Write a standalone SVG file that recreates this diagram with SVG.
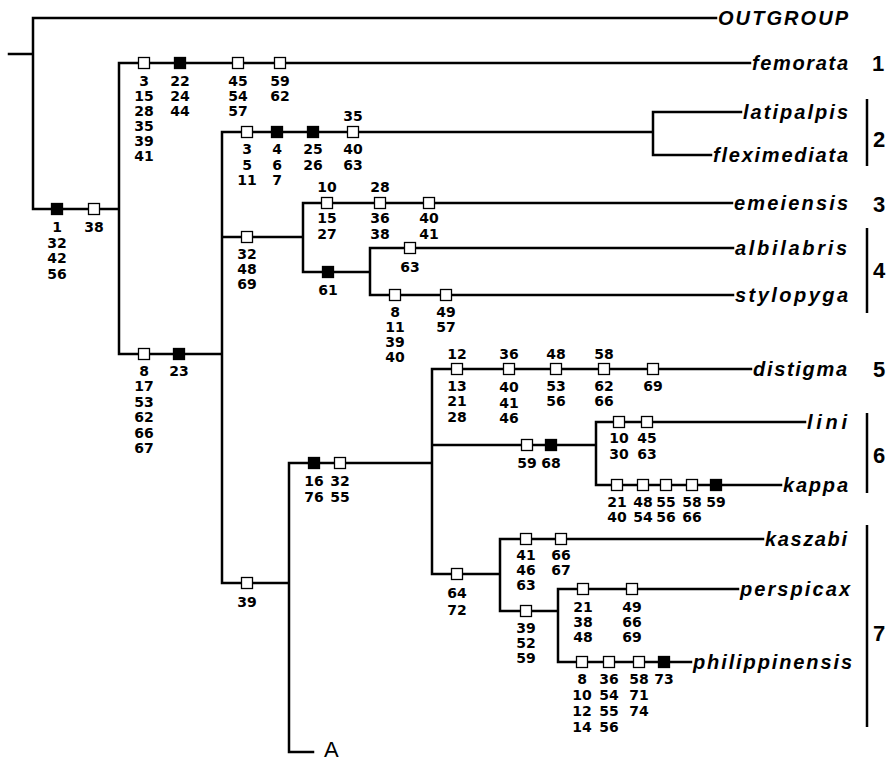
<svg xmlns="http://www.w3.org/2000/svg" width="891" height="762" viewBox="0 0 891 762">
<style>
.br{fill:none;stroke:#000;stroke-width:2.5;stroke-linecap:square}
.bk{fill:none;stroke:#000;stroke-width:2.5}
.o{fill:#fff;stroke:#000;stroke-width:1.3}
.f{fill:#000;stroke:#000;stroke-width:1.3}
.c{font-family:"DejaVu Sans",Verdana,sans-serif;font-weight:bold;font-size:14px;text-anchor:middle;fill:#000}
.t{font-family:"Liberation Sans",Arial,sans-serif;font-weight:bold;font-style:italic;font-size:20px;fill:#000}
.n{font-family:"Liberation Sans",Arial,sans-serif;font-weight:bold;font-size:22px;text-anchor:middle;fill:#000}
.a{font-family:"Liberation Sans",Arial,sans-serif;font-size:22px;fill:#000}
</style>
<rect width="891" height="762" fill="#fff"/>
<g id="connectors">
<path class="br" d="M9,54H33M33,18V209M33,18H716M33,209H119M119,63V354M119,63H750M119,354H222M222,132V583M222,132H653M653,112V155M653,112H741M653,155H711M222,237H303M303,203V272M303,203H732M303,272H370M370,248V295M370,248H733M370,295H733M222,583H289M289,463V752H313M289,463H432M432,369V574M432,369H751M432,445H596M596,422V485M596,422H805M596,485H781M432,574H500M500,539V611M500,539H763M500,611H558M558,589V662M558,589H738M558,662H691"/>
</g>
<g id="taxa">
<g id="t-outgroup"><text class="t" x="718" y="25" textLength="130" lengthAdjust="spacing">OUTGROUP</text></g>
<g id="t-femorata"><text class="t" x="752" y="70" textLength="96" lengthAdjust="spacing">femorata</text></g>
<g id="t-latipalpis"><text class="t" x="743" y="119" textLength="105" lengthAdjust="spacing">latipalpis</text></g>
<g id="t-fleximediata"><text class="t" x="713" y="162" textLength="135" lengthAdjust="spacing">fleximediata</text></g>
<g id="t-emeiensis"><text class="t" x="734" y="210" textLength="114" lengthAdjust="spacing">emeiensis</text></g>
<g id="t-albilabris"><text class="t" x="735" y="255" textLength="112" lengthAdjust="spacing">albilabris</text></g>
<g id="t-stylopyga"><text class="t" x="735" y="302" textLength="113" lengthAdjust="spacing">stylopyga</text></g>
<g id="t-distigma"><text class="t" x="753" y="376" textLength="94" lengthAdjust="spacing">distigma</text></g>
<g id="t-lini"><text class="t" x="807" y="429" textLength="40" lengthAdjust="spacing">lini</text></g>
<g id="t-kappa"><text class="t" x="783" y="492" textLength="65" lengthAdjust="spacing">kappa</text></g>
<g id="t-kaszabi"><text class="t" x="765" y="546" textLength="82" lengthAdjust="spacing">kaszabi</text></g>
<g id="t-perspicax"><text class="t" x="740" y="596" textLength="110" lengthAdjust="spacing">perspicax</text></g>
<g id="t-philippinensis"><text class="t" x="693" y="669" textLength="159" lengthAdjust="spacing">philippinensis</text></g>
<g id="t-A"><text class="a" x="324" y="757">A</text></g>
</g>
<g id="groups">
<g id="g1"><text class="n" x="878" y="71">1</text></g>
<g id="g2"><path class="bk" d="M867,99V166"/><text class="n" x="879" y="147">2</text></g>
<g id="g3"><text class="n" x="879" y="212">3</text></g>
<g id="g4"><path class="bk" d="M867,228V313"/><text class="n" x="879" y="278">4</text></g>
<g id="g5"><text class="n" x="879" y="377">5</text></g>
<g id="g6"><path class="bk" d="M867,413V493"/><text class="n" x="879" y="463">6</text></g>
<g id="g7"><path class="bk" d="M867,525V727"/><text class="n" x="879" y="641">7</text></g>
</g>
<g id="characters">
<g id="m1"><rect class="f" x="51.5" y="203.5" width="11" height="11"/><text class="c" x="57"><tspan x="57" y="232">1</tspan><tspan x="57" y="247.5">32</tspan><tspan x="57" y="263">42</tspan><tspan x="57" y="278.5">56</tspan></text></g>
<g id="m2"><rect class="o" x="88.5" y="203.5" width="11" height="11"/><text class="c"><tspan x="94" y="232">38</tspan></text></g>
<g id="m3"><rect class="o" x="138.5" y="57.5" width="11" height="11"/><text class="c"><tspan x="144" y="86">3</tspan><tspan x="144" y="101">15</tspan><tspan x="144" y="116">28</tspan><tspan x="144" y="131">35</tspan><tspan x="144" y="146">39</tspan><tspan x="144" y="161">41</tspan></text></g>
<g id="m4"><rect class="f" x="174.5" y="57.5" width="11" height="11"/><text class="c"><tspan x="180" y="86">22</tspan><tspan x="180" y="101">24</tspan><tspan x="180" y="116">44</tspan></text></g>
<g id="m5"><rect class="o" x="232.5" y="57.5" width="11" height="11"/><text class="c"><tspan x="238" y="86">45</tspan><tspan x="238" y="101">54</tspan><tspan x="238" y="116">57</tspan></text></g>
<g id="m6"><rect class="o" x="274.5" y="57.5" width="11" height="11"/><text class="c"><tspan x="280" y="86">59</tspan><tspan x="280" y="101">62</tspan></text></g>
<g id="m7"><rect class="o" x="138.5" y="348.5" width="11" height="11"/><text class="c"><tspan x="144" y="376">8</tspan><tspan x="144" y="391">17</tspan><tspan x="144" y="406.5">53</tspan><tspan x="144" y="422">62</tspan><tspan x="144" y="437.5">66</tspan><tspan x="144" y="453">67</tspan></text></g>
<g id="m8"><rect class="f" x="173.5" y="348.5" width="11" height="11"/><text class="c"><tspan x="179" y="376">23</tspan></text></g>
<g id="m9"><rect class="o" x="241.5" y="126.5" width="11" height="11"/><text class="c"><tspan x="247" y="154">3</tspan><tspan x="247" y="169.5">5</tspan><tspan x="247" y="185">11</tspan></text></g>
<g id="m10"><rect class="f" x="271.5" y="126.5" width="11" height="11"/><text class="c"><tspan x="277" y="154">4</tspan><tspan x="277" y="169.5">6</tspan><tspan x="277" y="185">7</tspan></text></g>
<g id="m11"><rect class="f" x="307.5" y="126.5" width="11" height="11"/><text class="c"><tspan x="313" y="154">25</tspan><tspan x="313" y="169.5">26</tspan></text></g>
<g id="m12"><rect class="o" x="347.5" y="126.5" width="11" height="11"/><text class="c"><tspan x="353" y="121">35</tspan><tspan x="353" y="154">40</tspan><tspan x="353" y="169.5">63</tspan></text></g>
<g id="m13"><rect class="o" x="241.5" y="231.5" width="11" height="11"/><text class="c"><tspan x="247" y="259">32</tspan><tspan x="247" y="274">48</tspan><tspan x="247" y="289">69</tspan></text></g>
<g id="m14"><rect class="o" x="321.5" y="197.5" width="11" height="11"/><text class="c"><tspan x="327" y="192">10</tspan><tspan x="327" y="223">15</tspan><tspan x="327" y="238.5">27</tspan></text></g>
<g id="m15"><rect class="o" x="374.5" y="197.5" width="11" height="11"/><text class="c"><tspan x="380" y="192">28</tspan><tspan x="380" y="223">36</tspan><tspan x="380" y="238.5">38</tspan></text></g>
<g id="m16"><rect class="o" x="423.5" y="197.5" width="11" height="11"/><text class="c"><tspan x="429" y="223">40</tspan><tspan x="429" y="238.5">41</tspan></text></g>
<g id="m17"><rect class="f" x="322.5" y="266.5" width="11" height="11"/><text class="c"><tspan x="328" y="295">61</tspan></text></g>
<g id="m18"><rect class="o" x="404.5" y="242.5" width="11" height="11"/><text class="c"><tspan x="410" y="271.5">63</tspan></text></g>
<g id="m19"><rect class="o" x="389.5" y="289.5" width="11" height="11"/><text class="c"><tspan x="395" y="317">8</tspan><tspan x="395" y="332">11</tspan><tspan x="395" y="347">39</tspan><tspan x="395" y="362">40</tspan></text></g>
<g id="m20"><rect class="o" x="440.5" y="289.5" width="11" height="11"/><text class="c"><tspan x="446" y="317">49</tspan><tspan x="446" y="332">57</tspan></text></g>
<g id="m21"><rect class="o" x="241.5" y="577.5" width="11" height="11"/><text class="c"><tspan x="247" y="606.5">39</tspan></text></g>
<g id="m22"><rect class="f" x="308.5" y="457.5" width="11" height="11"/><text class="c"><tspan x="314" y="486">16</tspan><tspan x="314" y="502">76</tspan></text></g>
<g id="m23"><rect class="o" x="334.5" y="457.5" width="11" height="11"/><text class="c"><tspan x="340" y="486">32</tspan><tspan x="340" y="502">55</tspan></text></g>
<g id="m24"><rect class="o" x="451.5" y="363.5" width="11" height="11"/><text class="c"><tspan x="457" y="359">12</tspan><tspan x="457" y="391">13</tspan><tspan x="457" y="406">21</tspan><tspan x="457" y="422">28</tspan></text></g>
<g id="m25"><rect class="o" x="503.5" y="363.5" width="11" height="11"/><text class="c"><tspan x="509" y="359">36</tspan><tspan x="509" y="392">40</tspan><tspan x="509" y="407.5">41</tspan><tspan x="509" y="423">46</tspan></text></g>
<g id="m26"><rect class="o" x="550.5" y="363.5" width="11" height="11"/><text class="c"><tspan x="556" y="359">48</tspan><tspan x="556" y="391">53</tspan><tspan x="556" y="406">56</tspan></text></g>
<g id="m27"><rect class="o" x="598.5" y="363.5" width="11" height="11"/><text class="c"><tspan x="604" y="359">58</tspan><tspan x="604" y="391">62</tspan><tspan x="604" y="406">66</tspan></text></g>
<g id="m28"><rect class="o" x="647.5" y="363.5" width="11" height="11"/><text class="c"><tspan x="653" y="391">69</tspan></text></g>
<g id="m29"><rect class="o" x="521.5" y="439.5" width="11" height="11"/><text class="c"><tspan x="527" y="467.5">59</tspan></text></g>
<g id="m30"><rect class="f" x="545.5" y="439.5" width="11" height="11"/><text class="c"><tspan x="551" y="467.5">68</tspan></text></g>
<g id="m31"><rect class="o" x="613.5" y="416.5" width="11" height="11"/><text class="c"><tspan x="619" y="443">10</tspan><tspan x="619" y="459">30</tspan></text></g>
<g id="m32"><rect class="o" x="641.5" y="416.5" width="11" height="11"/><text class="c"><tspan x="647" y="443">45</tspan><tspan x="647" y="459">63</tspan></text></g>
<g id="m33"><rect class="o" x="611.5" y="479.5" width="11" height="11"/><text class="c"><tspan x="617" y="507">21</tspan><tspan x="617" y="522">40</tspan></text></g>
<g id="m34"><rect class="o" x="637.5" y="479.5" width="11" height="11"/><text class="c"><tspan x="643" y="507">48</tspan><tspan x="643" y="522">54</tspan></text></g>
<g id="m35"><rect class="o" x="660.5" y="479.5" width="11" height="11"/><text class="c"><tspan x="666" y="507">55</tspan><tspan x="666" y="522">56</tspan></text></g>
<g id="m36"><rect class="o" x="686.5" y="479.5" width="11" height="11"/><text class="c"><tspan x="692" y="507">58</tspan><tspan x="692" y="522">66</tspan></text></g>
<g id="m37"><rect class="f" x="710.5" y="479.5" width="11" height="11"/><text class="c"><tspan x="716" y="507">59</tspan></text></g>
<g id="m38"><rect class="o" x="451.5" y="568.5" width="11" height="11"/><text class="c"><tspan x="457" y="597.5">64</tspan><tspan x="457" y="614.5">72</tspan></text></g>
<g id="m39"><rect class="o" x="520.5" y="533.5" width="11" height="11"/><text class="c"><tspan x="526" y="560">41</tspan><tspan x="526" y="575">46</tspan><tspan x="526" y="590">63</tspan></text></g>
<g id="m40"><rect class="o" x="555.5" y="533.5" width="11" height="11"/><text class="c"><tspan x="561" y="560">66</tspan><tspan x="561" y="575">67</tspan></text></g>
<g id="m41"><rect class="o" x="520.5" y="605.5" width="11" height="11"/><text class="c"><tspan x="526" y="633">39</tspan><tspan x="526" y="648">52</tspan><tspan x="526" y="663">59</tspan></text></g>
<g id="m42"><rect class="o" x="577.5" y="583.5" width="11" height="11"/><text class="c"><tspan x="583" y="612">21</tspan><tspan x="583" y="627">38</tspan><tspan x="583" y="642">48</tspan></text></g>
<g id="m43"><rect class="o" x="626.5" y="583.5" width="11" height="11"/><text class="c"><tspan x="632" y="612">49</tspan><tspan x="632" y="627">66</tspan><tspan x="632" y="642">69</tspan></text></g>
<g id="m44"><rect class="o" x="576.5" y="656.5" width="11" height="11"/><text class="c"><tspan x="582" y="684">8</tspan><tspan x="582" y="699.5">10</tspan><tspan x="582" y="716">12</tspan><tspan x="582" y="732">14</tspan></text></g>
<g id="m45"><rect class="o" x="603.5" y="656.5" width="11" height="11"/><text class="c"><tspan x="609" y="684">36</tspan><tspan x="609" y="699.5">54</tspan><tspan x="609" y="716">55</tspan><tspan x="609" y="732">56</tspan></text></g>
<g id="m46"><rect class="o" x="633.5" y="656.5" width="11" height="11"/><text class="c"><tspan x="639" y="684">58</tspan><tspan x="639" y="699.5">71</tspan><tspan x="639" y="716">74</tspan></text></g>
<g id="m47"><rect class="f" x="658.5" y="656.5" width="11" height="11"/><text class="c"><tspan x="664" y="684">73</tspan></text></g>
</g>
</svg>
